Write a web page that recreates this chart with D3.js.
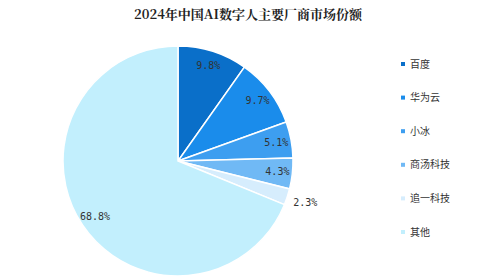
<!DOCTYPE html>
<html>
<head>
<meta charset="utf-8">
<script src="https://cdn.jsdelivr.net/npm/d3@7"></script>
<style>
  body { margin: 0; background: #fff; }
</style>
</head>
<body>
<div id="chart"></div>
<script>
// data
var names = ["百度", "华为云", "小冰", "商汤科技", "追一科技", "其他"];
var values = [9.8, 9.7, 5.1, 4.3, 2.3, 68.8];
var colors = ["#0a6fc9", "#1a8ceb", "#3d9ef0", "#70b9f5", "#d6edfd", "#c2effd"];

var width = 491, height = 277;
var cx = 178, cy = 161, radius = 115;

var svg = d3.select("#chart")
  .append("svg")
    .attr("width", width)
    .attr("height", height);

// title
svg.append("text")
  .attr("x", 248)
  .attr("y", 19)
  .style("text-anchor", "middle")
  .style("font-family", "'Noto Serif CJK SC', 'Noto Sans CJK SC', sans-serif")
  .style("font-weight", "bold")
  .style("font-size", "13px")
  .style("fill", "#222")
  .text("2024年中国AI数字人主要厂商市场份额");

var data = names.map(function(n, i) { return {name: n, value: values[i]}; });

var pie = d3.pie()
  .sort(null)
  .value(function(d) { return d.value; });

var arc = d3.arc().innerRadius(0).outerRadius(radius);
var labelArc = d3.arc().innerRadius(100).outerRadius(100);
var outArc = d3.arc().innerRadius(134).outerRadius(134);

var g = svg.append("g")
  .attr("transform", "translate(" + cx + "," + cy + ")");

var arcs = pie(data);

g.selectAll("path")
  .data(arcs)
  .enter()
  .append("path")
    .attr("d", arc)
    .attr("fill", function(d, i) { return colors[i]; })
    .attr("stroke", "#fff")
    .attr("stroke-width", 1.5);

g.selectAll("text.lbl")
  .data(arcs)
  .enter()
  .append("text")
    .attr("class", "lbl")
    .attr("transform", function(d) {
      var c = d.data.value < 3 ? outArc.centroid(d) : labelArc.centroid(d);
      return "translate(" + c + ")";
    })
    .attr("dy", "0.35em")
    .style("text-anchor", "middle")
    .style("font-family", "'DejaVu Sans Mono', monospace")
    .style("font-size", "10px")
    .style("fill", "#333")
    .text(function(d) { return d.data.value.toFixed(1) + "%"; });

// legend
var legend = svg.selectAll("g.leg")
  .data(data)
  .enter()
  .append("g")
    .attr("class", "leg")
    .attr("transform", function(d, i) { return "translate(401," + (64 + i * 33.6) + ")"; });

legend.append("rect")
  .attr("x", 0)
  .attr("y", -2)
  .attr("width", 4)
  .attr("height", 4)
  .attr("fill", function(d, i) { return colors[i]; });

legend.append("text")
  .attr("x", 9)
  .attr("y", 0)
  .attr("dy", "0.35em")
  .style("font-family", "'Noto Sans CJK SC', sans-serif")
  .style("font-size", "10px")
  .style("fill", "#333")
  .text(function(d) { return d.name; });
</script>
</body>
</html>
